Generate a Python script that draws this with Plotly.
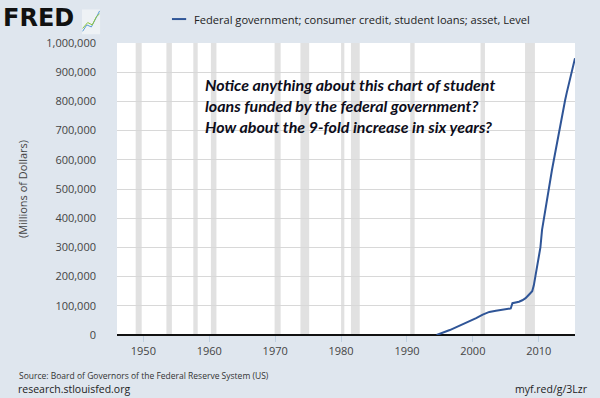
import plotly.graph_objects as go

# Data (millions of dollars)
dates = ["1994-07-01", "1995-07-01", "1996-07-01", "1997-07-01", "1998-07-01",
         "1999-07-01", "2000-07-01", "2001-07-01", "2002-07-01", "2003-07-01",
         "2004-07-01", "2005-07-01", "2005-10-01", "2006-01-01", "2006-07-01",
         "2007-01-01", "2007-07-01", "2008-01-01", "2008-07-01",
         "2009-01-01", "2009-04-01", "2009-07-01", "2009-10-01",
         "2010-01-01", "2010-04-01", "2010-07-01", "2010-10-01",
         "2011-01-01", "2011-04-01", "2011-07-01", "2011-10-01",
         "2012-01-01", "2012-04-01", "2012-07-01", "2012-10-01",
         "2013-01-01", "2013-04-01", "2013-07-01", "2013-10-01",
         "2014-01-01", "2014-04-01", "2014-07-01", "2014-10-01",
         "2015-01-01", "2015-04-01", "2015-07-01"]
values = [0, 8000, 17000, 27000, 37000,
          47000, 58000, 70000, 79000, 83000,
          86000, 89000, 91000, 109000, 111000,
          114000, 119000, 126000, 138000,
          150000, 170000, 205000, 235000,
          270000, 300000, 360000, 395000,
          440000, 475000, 510000, 535000,
          565000, 595000, 625000, 660000,
          685000, 720000, 755000, 780000,
          805000, 830000, 855000, 875000,
          900000, 925000, 948000]

recession_starts = ["1948-11-01", "1953-07-01", "1957-08-01", "1960-04-01", "1969-12-01",
                    "1973-11-01", "1980-01-01", "1981-07-01", "1990-07-01", "2001-03-01",
                    "2007-12-01"]
recession_ends = ["1949-10-01", "1954-05-01", "1958-04-01", "1961-02-01", "1970-11-01",
                  "1975-03-01", "1980-07-01", "1982-11-01", "1991-03-01", "2001-11-01",
                  "2009-06-01"]

tick_years = ["1950-01-01", "1960-01-01", "1970-01-01", "1980-01-01",
              "1990-01-01", "2000-01-01", "2010-01-01"]
tick_labels = ["1950", "1960", "1970", "1980", "1990", "2000", "2010"]
y_ticks = [0, 100000, 200000, 300000, 400000, 500000, 600000, 700000, 800000, 900000, 1000000]

series_name = "Federal government; consumer credit, student loans; asset, Level"
note_lines = ["Notice anything about this chart of student",
              "loans funded by the federal government?",
              "How about the 9-fold increase in six years?"]

BG = "#dfe6ee"
LINE = "#2f5597"

fig = go.Figure()

fig.add_trace(go.Scatter(x=dates, y=values, mode="lines",
                         line=dict(color=LINE, width=2),
                         name=series_name, showlegend=False))

shapes = []
for s, e in zip(recession_starts, recession_ends):
    shapes.append(dict(type="rect", xref="x", yref="paper", x0=s, x1=e, y0=0, y1=1,
                       fillcolor="#e1e1e1", line=dict(width=0), layer="below"))

# legend swatch
shapes.append(dict(type="line", xref="paper", yref="paper",
                   x0=0.120, x1=0.151, y0=1.082, y1=1.082,
                   line=dict(color=LINE, width=2)))
# FRED logo icon
shapes.append(dict(type="rect", xref="paper", yref="paper",
                   x0=-0.0764, x1=-0.037, y0=1.03, y1=1.115,
                   fillcolor="#eef2f5", line=dict(width=0)))
shapes.append(dict(type="path", xref="paper", yref="paper",
                   path="M -0.075,1.04 L -0.066,1.062 L -0.056,1.055 L -0.046,1.085 L -0.038,1.11",
                   line=dict(color="#5a9bd4", width=1)))
shapes.append(dict(type="path", xref="paper", yref="paper",
                   path="M -0.075,1.05 L -0.064,1.07 L -0.054,1.062 L -0.045,1.09 L -0.038,1.1",
                   line=dict(color="#8dc63f", width=1)))

annotations = [
    dict(text="<b>FRED</b>", xref="paper", yref="paper", x=-0.254, y=1.14,
         xanchor="left", yanchor="top", showarrow=False,
         font=dict(family="DejaVu Sans", size=24, color="#111111")),
    dict(text=series_name, xref="paper", yref="paper", x=0.164, y=1.082,
         xanchor="left", yanchor="middle", showarrow=False,
         font=dict(family="Open Sans", size=11.1, color="#222222")),
    dict(text="<b><i>" + "<br>".join(note_lines) + "</i></b>", xref="paper", yref="paper",
         x=0.188, y=0.897, xanchor="left", yanchor="top", align="left", showarrow=False,
         font=dict(family="Lato", size=16, color="#0d0d1a")),
    dict(text="Source: Board of Governors of the Federal Reserve System (US)",
         xref="paper", yref="paper", x=-0.218, y=-0.137, xanchor="left", yanchor="middle",
         showarrow=False, font=dict(family="Open Sans", size=8.5, color="#333333")),
    dict(text="research.stlouisfed.org", xref="paper", yref="paper", x=-0.22, y=-0.185,
         xanchor="left", yanchor="middle", showarrow=False,
         font=dict(family="Open Sans", size=10.5, color="#222222")),
    dict(text="myf.red/g/3Lzr", xref="paper", yref="paper", x=1.033, y=-0.185,
         xanchor="right", yanchor="middle", showarrow=False,
         font=dict(family="Open Sans", size=10.5, color="#222222")),
]

fig.update_layout(
    width=600, height=398,
    margin=dict(l=117, r=25, t=43, b=63),
    paper_bgcolor=BG, plot_bgcolor="white",
    shapes=shapes, annotations=annotations,
    showlegend=False,
    xaxis=dict(type="date", range=["1946-01-01", "2015-07-01"],
               tickvals=tick_years, ticktext=tick_labels,
               showgrid=False, ticks="outside", ticklen=6, tickcolor="#c0d0e0",
               tickfont=dict(family="Open Sans", size=11, color="#444444"),
               showline=False, zeroline=False),
    yaxis=dict(range=[0, 1000000], tickvals=y_ticks,
               ticktext=[f"{v:,}" for v in y_ticks],
               showgrid=True, gridcolor="#d8d8d8", gridwidth=1,
               tickfont=dict(family="Open Sans", size=11, color="#444444"),
               ticks="", ticklabelstandoff=20,
               title=dict(text="(Millions of Dollars)", standoff=16,
                          font=dict(family="Open Sans", size=11, color="#444444")),
               zeroline=True, zerolinecolor="#111111", zerolinewidth=2,
               showline=False),
)

fig.write_html("out.html", config={"displayModeBar": False},
               post_script="document.body.style.margin='0';")
